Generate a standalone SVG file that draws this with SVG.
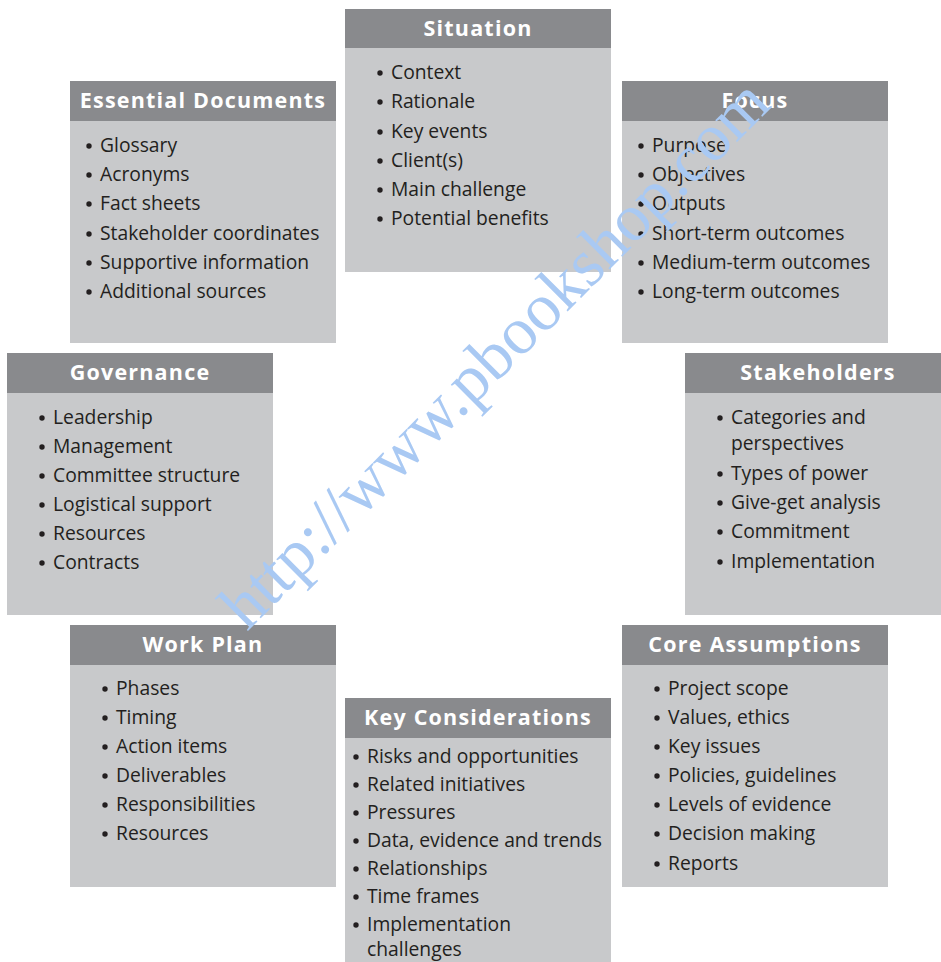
<svg xmlns="http://www.w3.org/2000/svg" width="941" height="962" viewBox="0 0 941 962">
<style>
.body{fill:#c8c9cb}
.head{fill:#898a8d}
.title{font-family:"Open Sans","Noto Sans",sans-serif;font-weight:700;font-size:21.5px;fill:#ffffff;text-anchor:middle;letter-spacing:1.2px}
.item{font-family:"Open Sans","Noto Sans",sans-serif;font-size:19.3px;fill:#231f20}
.dot{fill:#231f20}
.wm{font-family:"Liberation Serif","Times New Roman",serif;font-size:67px;fill:#a9c9f3;text-anchor:middle}
</style>
<rect width="941" height="962" fill="#ffffff"/>
<g id="connectors"></g>

<g id="situation">
<rect class="body" x="345" y="9" width="266" height="263"/>
<rect class="head" x="345" y="9" width="266" height="39"/>
<text class="title" x="478" y="36">Situation</text>
<circle class="dot" cx="380" cy="73" r="2.7"/><text class="item" x="391" y="79">Context</text>
<circle class="dot" cx="380" cy="102" r="2.7"/><text class="item" x="391" y="108">Rationale</text>
<circle class="dot" cx="380" cy="132" r="2.7"/><text class="item" x="391" y="138">Key events</text>
<circle class="dot" cx="380" cy="161" r="2.7"/><text class="item" x="391" y="167">Client(s)</text>
<circle class="dot" cx="380" cy="190" r="2.7"/><text class="item" x="391" y="196">Main challenge</text>
<circle class="dot" cx="380" cy="219" r="2.7"/><text class="item" x="391" y="225">Potential benefits</text>
</g>

<g id="essential-documents">
<rect class="body" x="70" y="81" width="266" height="262"/>
<rect class="head" x="70" y="81" width="266" height="40"/>
<text class="title" x="203" y="108">Essential Documents</text>
<circle class="dot" cx="89" cy="146" r="2.7"/><text class="item" x="100" y="152">Glossary</text>
<circle class="dot" cx="89" cy="175" r="2.7"/><text class="item" x="100" y="181">Acronyms</text>
<circle class="dot" cx="89" cy="204" r="2.7"/><text class="item" x="100" y="210">Fact sheets</text>
<circle class="dot" cx="89" cy="234" r="2.7"/><text class="item" x="100" y="240">Stakeholder coordinates</text>
<circle class="dot" cx="89" cy="263" r="2.7"/><text class="item" x="100" y="269">Supportive information</text>
<circle class="dot" cx="89" cy="292" r="2.7"/><text class="item" x="100" y="298">Additional sources</text>
</g>

<g id="focus">
<rect class="body" x="622" y="81" width="266" height="262"/>
<rect class="head" x="622" y="81" width="266" height="40"/>
<text class="title" x="755" y="108">Focus</text>
<circle class="dot" cx="641" cy="146" r="2.7"/><text class="item" x="652" y="152">Purpose</text>
<circle class="dot" cx="641" cy="175" r="2.7"/><text class="item" x="652" y="181">Objectives</text>
<circle class="dot" cx="641" cy="204" r="2.7"/><text class="item" x="652" y="210">Outputs</text>
<circle class="dot" cx="641" cy="234" r="2.7"/><text class="item" x="652" y="240">Short-term outcomes</text>
<circle class="dot" cx="641" cy="263" r="2.7"/><text class="item" x="652" y="269">Medium-term outcomes</text>
<circle class="dot" cx="641" cy="292" r="2.7"/><text class="item" x="652" y="298">Long-term outcomes</text>
</g>

<g id="governance">
<rect class="body" x="7" y="353" width="266" height="262"/>
<rect class="head" x="7" y="353" width="266" height="40"/>
<text class="title" x="140" y="380">Governance</text>
<circle class="dot" cx="42" cy="418" r="2.7"/><text class="item" x="53" y="424">Leadership</text>
<circle class="dot" cx="42" cy="447" r="2.7"/><text class="item" x="53" y="453">Management</text>
<circle class="dot" cx="42" cy="476" r="2.7"/><text class="item" x="53" y="482">Committee structure</text>
<circle class="dot" cx="42" cy="505" r="2.7"/><text class="item" x="53" y="511">Logistical support</text>
<circle class="dot" cx="42" cy="534" r="2.7"/><text class="item" x="53" y="540">Resources</text>
<circle class="dot" cx="42" cy="563" r="2.7"/><text class="item" x="53" y="569">Contracts</text>
</g>

<g id="stakeholders">
<rect class="body" x="685" y="353" width="266" height="262"/>
<rect class="head" x="685" y="353" width="266" height="40"/>
<text class="title" x="818" y="380">Stakeholders</text>
<circle class="dot" cx="720" cy="418" r="2.7"/><text class="item" x="731" y="424">Categories and</text>
<text class="item" x="731" y="450">perspectives</text>
<circle class="dot" cx="720" cy="474" r="2.7"/><text class="item" x="731" y="480">Types of power</text>
<circle class="dot" cx="720" cy="503" r="2.7"/><text class="item" x="731" y="509">Give-get analysis</text>
<circle class="dot" cx="720" cy="532" r="2.7"/><text class="item" x="731" y="538">Commitment</text>
<circle class="dot" cx="720" cy="562" r="2.7"/><text class="item" x="731" y="568">Implementation</text>
</g>

<g id="work-plan">
<rect class="body" x="70" y="625" width="266" height="262"/>
<rect class="head" x="70" y="625" width="266" height="40"/>
<text class="title" x="203" y="652">Work Plan</text>
<circle class="dot" cx="105" cy="689" r="2.7"/><text class="item" x="116" y="695">Phases</text>
<circle class="dot" cx="105" cy="718" r="2.7"/><text class="item" x="116" y="724">Timing</text>
<circle class="dot" cx="105" cy="747" r="2.7"/><text class="item" x="116" y="753">Action items</text>
<circle class="dot" cx="105" cy="776" r="2.7"/><text class="item" x="116" y="782">Deliverables</text>
<circle class="dot" cx="105" cy="805" r="2.7"/><text class="item" x="116" y="811">Responsibilities</text>
<circle class="dot" cx="105" cy="834" r="2.7"/><text class="item" x="116" y="840">Resources</text>
</g>

<g id="core-assumptions">
<rect class="body" x="622" y="625" width="266" height="262"/>
<rect class="head" x="622" y="625" width="266" height="40"/>
<text class="title" x="755" y="652">Core Assumptions</text>
<circle class="dot" cx="657" cy="689" r="2.7"/><text class="item" x="668" y="695">Project scope</text>
<circle class="dot" cx="657" cy="718" r="2.7"/><text class="item" x="668" y="724">Values, ethics</text>
<circle class="dot" cx="657" cy="747" r="2.7"/><text class="item" x="668" y="753">Key issues</text>
<circle class="dot" cx="657" cy="776" r="2.7"/><text class="item" x="668" y="782">Policies, guidelines</text>
<circle class="dot" cx="657" cy="805" r="2.7"/><text class="item" x="668" y="811">Levels of evidence</text>
<circle class="dot" cx="657" cy="834" r="2.7"/><text class="item" x="668" y="840">Decision making</text>
<circle class="dot" cx="657" cy="864" r="2.7"/><text class="item" x="668" y="870">Reports</text>
</g>

<g id="key-considerations">
<rect class="body" x="345" y="698" width="266" height="270"/>
<rect class="head" x="345" y="698" width="266" height="40"/>
<text class="title" x="478" y="725">Key Considerations</text>
<circle class="dot" cx="356" cy="757" r="2.7"/><text class="item" x="367" y="763">Risks and opportunities</text>
<circle class="dot" cx="356" cy="785" r="2.7"/><text class="item" x="367" y="791">Related initiatives</text>
<circle class="dot" cx="356" cy="813" r="2.7"/><text class="item" x="367" y="819">Pressures</text>
<circle class="dot" cx="356" cy="841" r="2.7"/><text class="item" x="367" y="847">Data, evidence and trends</text>
<circle class="dot" cx="356" cy="869" r="2.7"/><text class="item" x="367" y="875">Relationships</text>
<circle class="dot" cx="356" cy="897" r="2.7"/><text class="item" x="367" y="903">Time frames</text>
<circle class="dot" cx="356" cy="925" r="2.7"/><text class="item" x="367" y="931">Implementation</text>
<text class="item" x="367" y="956">challenges</text>
</g>

<text class="wm" x="510" y="369" transform="rotate(-45 510 369)">http://www.pbookshop.com</text>
</svg>
